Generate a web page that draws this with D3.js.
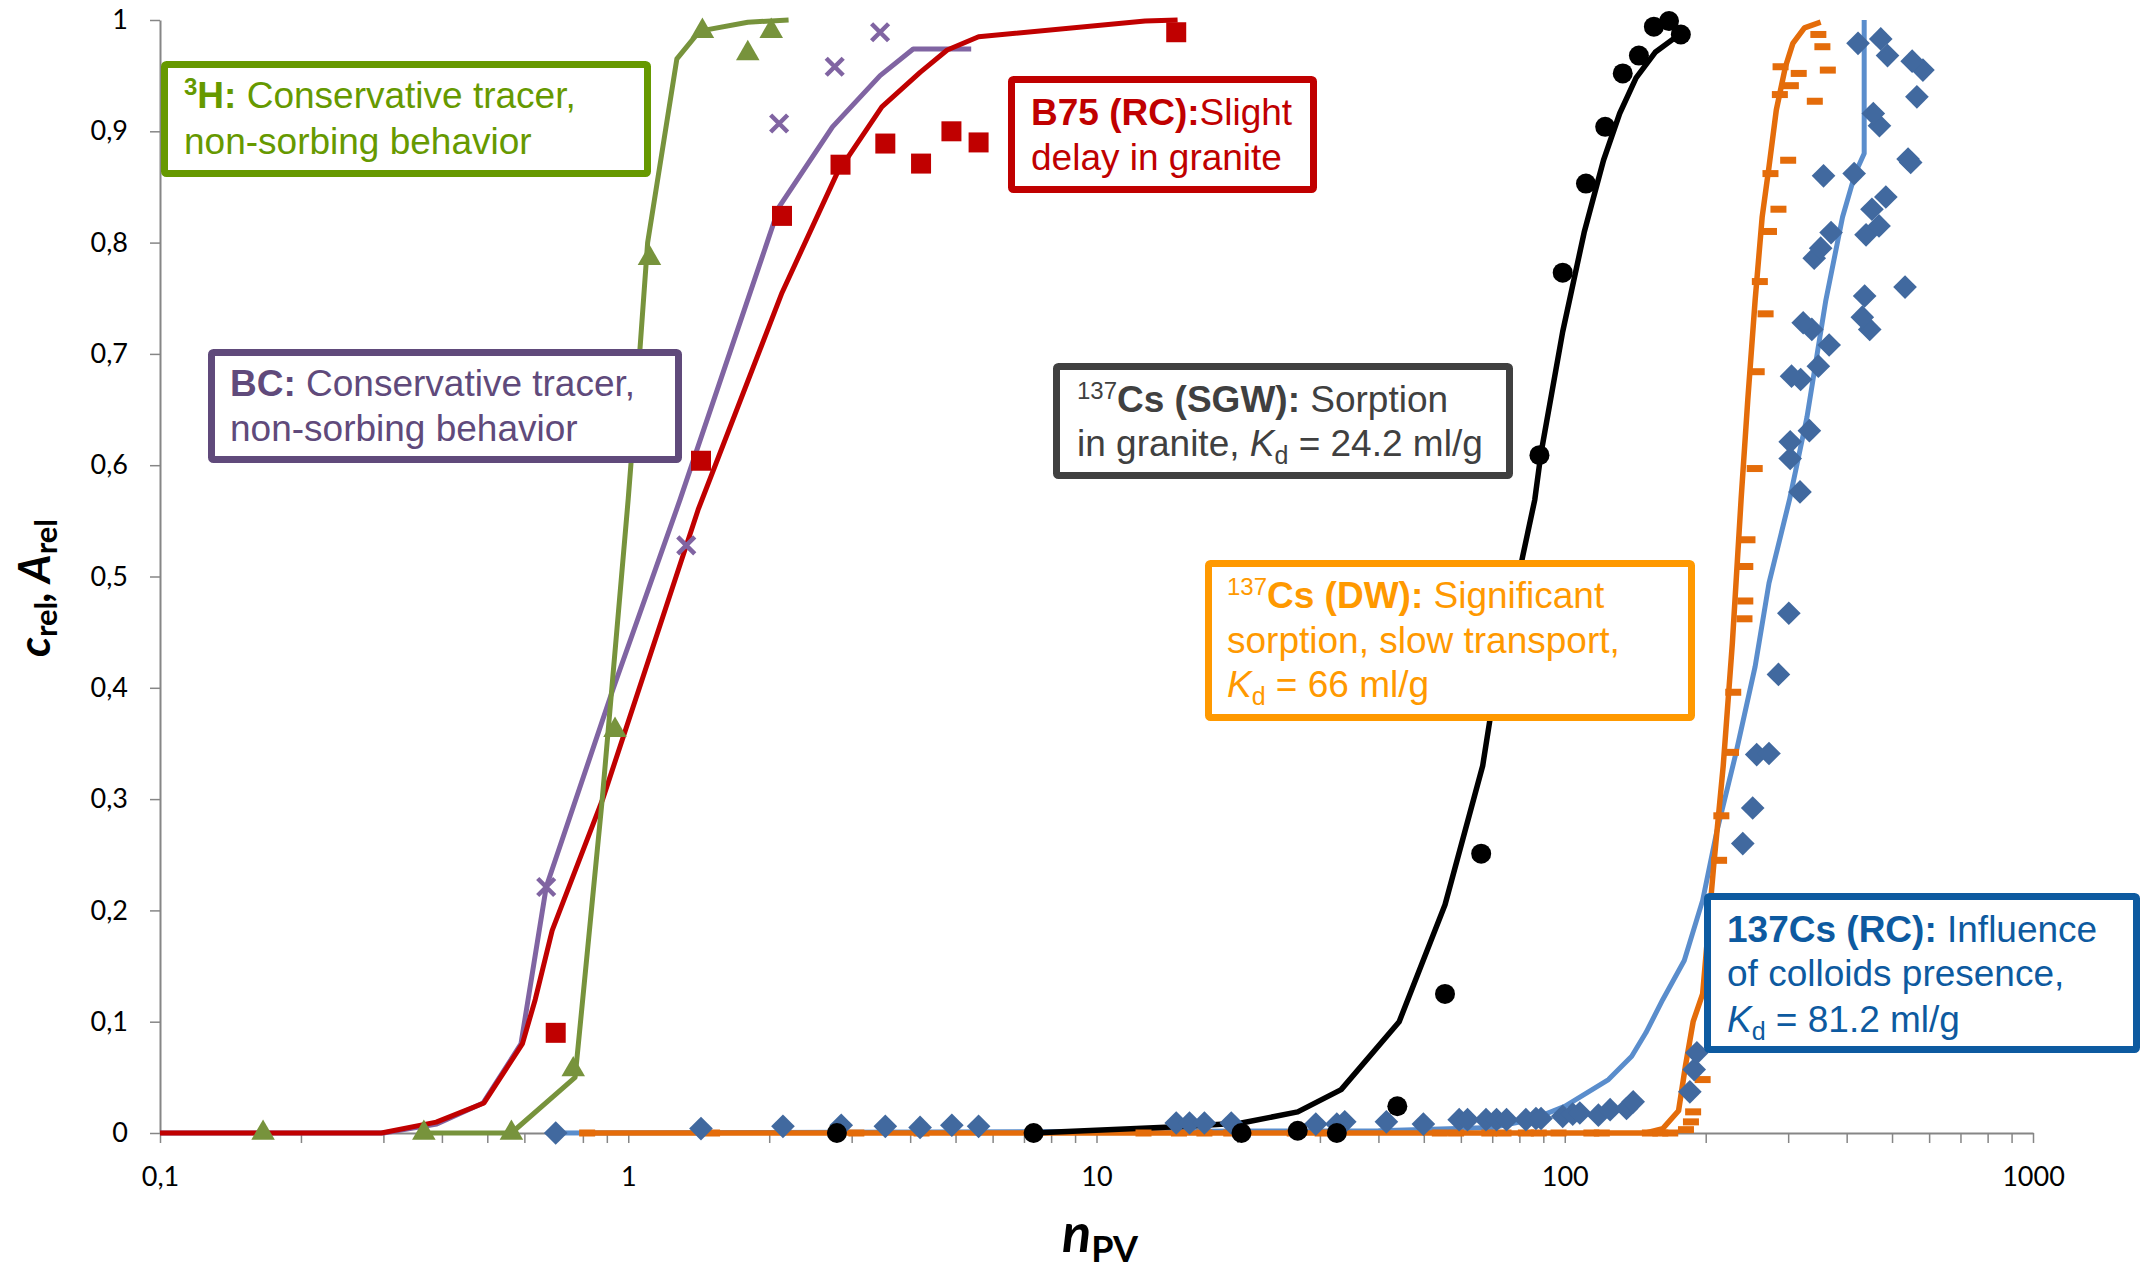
<!DOCTYPE html>
<html>
<head>
<meta charset="utf-8">
<script src="https://cdn.jsdelivr.net/npm/d3@7"></script>
<style>
  html, body { margin: 0; padding: 0; background: #fff; }
  svg { display: block; }
</style>
</head>
<body>
<svg id="chart" width="2142" height="1272"></svg>
<script>
// ---------- Breakthrough data: [n_PV, c_rel] ----------
// 3H (conservative tracer)
const h3Measured = [[0.166,0],[0.366,0],[0.563,0],[0.763,0.057],[0.937,0.362],[1.11,0.786],[1.44,0.99],[1.80,0.97],[2.02,0.99]];
const h3Model = [[0.366,0],[0.563,0],[0.77,0.05],[0.88,0.30],[1.0,0.57],[1.06,0.706],[1.10,0.80],[1.27,0.965],[1.42,0.99],[1.8,0.998],[2.2,1.0]];

// BC (conservative tracer)
const bcMeasured = [[0.668,0.221],[1.33,0.528],[2.10,0.907],[2.76,0.958],[3.45,0.989]];
const bcModel = [[0.1,0],[0.3,0],[0.39,0.008],[0.49,0.027],[0.59,0.08],[0.668,0.221],[0.93,0.40],[1.29,0.569],[2.10,0.832],[2.73,0.904],[3.45,0.95],[4.06,0.974],[5.4,0.974]];

// B75 (RC)
const b75Measured = [[0.70,0.09],[1.43,0.604],[2.13,0.824],[2.84,0.87],[3.54,0.889],[4.22,0.871],[4.9,0.90],[5.6,0.89],[14.8,0.989]];
const b75Model = [[0.1,0],[0.297,0],[0.389,0.0098],[0.492,0.027],[0.594,0.08],[0.633,0.12],[0.688,0.182],[0.882,0.30],[1.41,0.56],[2.13,0.755],[2.79,0.862],[3.48,0.922],[4.2,0.953],[4.8,0.973],[5.6,0.985],[12.7,0.999],[14.9,1.0]];

// 137Cs (SGW)
const sgwMeasured = [[2.79,0],[7.34,0],[20.4,0],[26.9,0.002],[32.6,0],[43.9,0.024],[55.5,0.125],[66.3,0.251],[88.3,0.609],[99,0.773],[111,0.853],[122,0.904],[133,0.952],[144,0.968],[155,0.994],[167,0.999],[177,0.987]];
const sgwModel = [[7.3,0],[15.7,0.006],[20.4,0.009],[26.9,0.019],[33.3,0.039],[44.3,0.10],[55.5,0.205],[66.8,0.33],[69.2,0.371],[81.3,0.518],[86.3,0.569],[89,0.611],[99,0.72],[110,0.809],[121,0.874],[131,0.916],[142,0.948],[156,0.971],[177,0.988]];

// 137Cs (DW)
const dwMeasured = [[0.817,0],[1.51,0],[3.07,0],[4.23,0],[12.6,0],[15,0],[17,0],[19.4,0],[26.5,0],[30.4,0],[54.1,0],[58.6,0],[69,0],[74,0],[82.6,0],[88,0],[97,0],[114,0],[120,0],[152,0],[160,0],[168,0],
  [181.5,0.003],[186,0.01],[188,0.019],[197,0.048],[213.6,0.245],[216,0.285],[226.5,0.342],[229,0.396],[242,0.462],[243,0.478],[243,0.509],[245.6,0.533],[254.5,0.597],[257,0.684],[268.5,0.736],[261,0.765],[273,0.81],[286,0.83],[275,0.862],[300,0.874],[342,0.927],[288,0.933],[304,0.941],[316,0.952],[289,0.958],[364.6,0.955],[355,0.976],[348,0.987]];
const dwModel = [[0.788,0],[149,0],[162,0.004],[175,0.02],[181,0.06],[188,0.10],[197,0.125],[208,0.24],[218,0.33],[228,0.44],[238,0.569],[246,0.659],[255,0.748],[264,0.823],[273,0.868],[283,0.919],[296,0.958],[307,0.979],[325,0.993],[352,0.998]];

// 137Cs (RC)
const rcMeasured = [[0.70,0],[1.43,0.004],[2.14,0.006],[2.85,0.007],[3.54,0.006],[4.2,0.005],[4.91,0.007],[5.6,0.006],[14.8,0.009],[15.8,0.009],[17.0,0.009],[19.4,0.009],[29.4,0.008],[32.6,0.008],[33.9,0.01],[41.6,0.01],[49.9,0.008],[59.5,0.012],[62,0.012],[67.9,0.012],[71.5,0.012],[75.1,0.012],[82.6,0.012],[86.8,0.013],[89,0.013],[99,0.015],[104,0.017],[107.7,0.018],[118,0.016],[125,0.021],[135.5,0.022],[140,0.028],[185,0.037],[189,0.057],[191.5,0.072],
  [240,0.26],[252,0.292],[257,0.34],[273,0.341],[286,0.412],[301,0.467],[318,0.576],[303,0.606],[303,0.621],[333,0.631],[319,0.677],[305,0.68],[348,0.689],[367,0.708],[337,0.722],[323,0.728],[448,0.722],[432,0.733],[437,0.752],[533,0.76],[341,0.786],[352,0.795],[370.5,0.809],[440,0.807],[469,0.815],[453,0.83],[485,0.841],[357,0.86],[415,0.862],[541,0.875],[548,0.872],[470,0.905],[456,0.916],[565,0.931],[582,0.955],[552,0.963],[489,0.968],[423,0.979],[473,0.983]];
const rcModel = [[0.70,0],[40,0.002],[70,0.005],[85,0.012],[100,0.024],[124,0.048],[139,0.069],[149,0.09],[162,0.12],[180,0.155],[197,0.209],[211,0.27],[232,0.341],[255,0.419],[273,0.494],[302,0.569],[329,0.643],[361,0.748],[392,0.823],[417,0.862],[436,0.88],[436,1.0]];

// ---------- Axis ticks ----------
const xMajorTicks = [0.1, 1, 10, 100, 1000];
const xMajorLabels = ["0,1", "1", "10", "100", "1000"];
const yTicks = [0, 0.1, 0.2, 0.3, 0.4, 0.5, 0.6, 0.7, 0.8, 0.9, 1];
const yLabels = ["0", "0,1", "0,2", "0,3", "0,4", "0,5", "0,6", "0,7", "0,8", "0,9", "1"];

// ---------- Annotation texts ----------
const noteH3 = [[{t:"3", b:1, sup:1}, {t:"H:", b:1}, {t:" Conservative tracer,"}], [{t:"non-sorbing behavior"}]];
const noteBC = [[{t:"BC:", b:1}, {t:" Conservative tracer,"}], [{t:"non-sorbing behavior"}]];
const noteB75 = [[{t:"B75 (RC):", b:1}, {t:"Slight"}], [{t:"delay in granite"}]];
const noteSGW = [[{t:"137", sup:1}, {t:"Cs (SGW):", b:1}, {t:" Sorption"}], [{t:"in granite, "}, {t:"K", i:1}, {t:"d", sub:1}, {t:" = 24.2 ml/g"}]];
const noteDW = [[{t:"137", sup:1}, {t:"Cs (DW):", b:1}, {t:" Significant"}], [{t:"sorption, slow transport,"}], [{t:"K", i:1}, {t:"d", sub:1}, {t:" = 66 ml/g"}]];
const noteRC = [[{t:"137Cs (RC):", b:1}, {t:" Influence"}], [{t:"of colloids presence,"}], [{t:"K", i:1}, {t:"d", sub:1}, {t:" = 81.2 ml/g"}]];

// ---------- Layout ----------
const svg = d3.select("#chart");
const plotLeft = 160, plotRight = 2033, plotTop = 20, plotBottom = 1133;
const x = d3.scaleLog().domain([0.1, 1000]).range([plotLeft, plotRight]);
const y = d3.scaleLinear().domain([0, 1]).range([plotBottom, plotTop]);

const axisColor = "#868686";
const tickFont = "Lato, 'Open Sans', sans-serif";
const boxFont = "'Liberation Sans', Arial, sans-serif";

// x axis with minor ticks at every integer multiple of a decade
const xAllTicks = [];
xMajorTicks.slice(0, -1).forEach(d => { for (let k = 1; k < 10; k++) xAllTicks.push(d * k); });
xAllTicks.push(1000);

const xAxis = d3.axisBottom(x)
  .tickValues(xAllTicks)
  .tickSize(10)
  .tickSizeOuter(0)
  .tickPadding(24)
  .tickFormat(d => {
    const i = xMajorTicks.findIndex(m => Math.abs(m - d) / m < 1e-9);
    return i >= 0 ? xMajorLabels[i] : "";
  });

const gx = svg.append("g").attr("transform", `translate(0,${plotBottom})`).call(xAxis);
gx.select(".domain").attr("stroke", axisColor).attr("stroke-width", 2);
gx.selectAll(".tick line").attr("stroke", axisColor).attr("stroke-width", 1.5);
gx.selectAll(".tick text").attr("fill", "#000").style("font-family", tickFont).style("font-size", "27px");

const yAxis = d3.axisLeft(y)
  .tickValues(yTicks)
  .tickSize(10)
  .tickSizeOuter(0)
  .tickPadding(22)
  .tickFormat((d, i) => yLabels[i]);

const gy = svg.append("g").attr("transform", `translate(${plotLeft},0)`).call(yAxis);
gy.select(".domain").attr("stroke", axisColor).attr("stroke-width", 2);
gy.selectAll(".tick line").attr("stroke", axisColor).attr("stroke-width", 1.5);
gy.selectAll(".tick text").attr("fill", "#000").style("font-family", tickFont).style("font-size", "27px");

// axis titles
const xt = svg.append("text").attr("x", 1062).attr("y", 1252)
  .style("font-family", tickFont).attr("fill", "#000");
xt.append("tspan").text("n").style("font-weight", "bold").style("font-style", "italic").style("font-size", "54px");
xt.append("tspan").text("PV").attr("dy", 10).style("font-weight", "bold").style("font-size", "36px");

const yt = svg.append("text").attr("transform", "translate(50,588) rotate(-90)")
  .attr("text-anchor", "middle").style("font-family", tickFont).attr("fill", "#000")
  .style("font-weight", "bold");
yt.append("tspan").text("c").style("font-style", "italic").style("font-size", "44px");
yt.append("tspan").text("rel").attr("dy", 7).style("font-size", "31px");
yt.append("tspan").text(", ").attr("dy", -7).style("font-style", "italic").style("font-size", "44px");
yt.append("tspan").text("A").style("font-style", "italic").style("font-size", "44px");
yt.append("tspan").text("rel").attr("dy", 7).style("font-size", "31px");

// ---------- Model curves ----------
const line = d3.line().x(d => x(d[0])).y(d => y(d[1]));
const curves = [
  {data: rcModel,  color: "#5a8dcc", w: 5},
  {data: dwModel,  color: "#e46c0a", w: 5.5},
  {data: sgwModel, color: "#000000", w: 5.5},
  {data: bcModel,  color: "#8064a2", w: 5},
  {data: b75Model, color: "#c00000", w: 5},
  {data: h3Model,  color: "#77933c", w: 5}
];
svg.append("g").selectAll("path").data(curves).join("path")
  .attr("d", d => line(d.data))
  .attr("fill", "none")
  .attr("stroke", d => d.color)
  .attr("stroke-width", d => d.w)
  .attr("stroke-linejoin", "round");

// ---------- Measured points ----------
const gm = svg.append("g");
// DW: short horizontal dashes
gm.append("g").selectAll("rect").data(dwMeasured).join("rect")
  .attr("x", d => x(d[0]) - 8).attr("y", d => y(d[1]) - 3.5)
  .attr("width", 16).attr("height", 7).attr("fill", "#e46c0a");
// RC: diamonds
const diamond = d3.symbol().type(d3.symbolSquare).size(280)();
gm.append("g").selectAll("path").data(rcMeasured).join("path")
  .attr("d", diamond)
  .attr("transform", d => `translate(${x(d[0])},${y(d[1])}) rotate(45)`)
  .attr("fill", "#41699f");
// SGW: circles
gm.append("g").selectAll("circle").data(sgwMeasured).join("circle")
  .attr("cx", d => x(d[0])).attr("cy", d => y(d[1])).attr("r", 10).attr("fill", "#000");
// BC: crosses
gm.append("g").selectAll("path").data(bcMeasured).join("path")
  .attr("d", "M-8.5,-8.5L8.5,8.5M-8.5,8.5L8.5,-8.5")
  .attr("transform", d => `translate(${x(d[0])},${y(d[1])})`)
  .attr("stroke", "#8064a2").attr("stroke-width", 4.5).attr("fill", "none");
// B75: squares
const square = d3.symbol().type(d3.symbolSquare).size(400)();
gm.append("g").selectAll("path").data(b75Measured).join("path")
  .attr("d", square)
  .attr("transform", d => `translate(${x(d[0])},${y(d[1])})`)
  .attr("fill", "#c00000");
// 3H: triangles
const tri = d3.symbol().type(d3.symbolTriangle).size(240)();
gm.append("g").selectAll("path").data(h3Measured).join("path")
  .attr("d", tri)
  .attr("transform", d => `translate(${x(d[0])},${y(d[1])})`)
  .attr("fill", "#77933c");

// ---------- Annotation boxes ----------
function noteBox(x0, y0, x1, y1, color, lines, textX, baselines) {
  const g = svg.append("g");
  g.append("rect")
    .attr("x", x0 + 3.5).attr("y", y0 + 3.5)
    .attr("width", x1 - x0 - 7).attr("height", y1 - y0 - 7)
    .attr("rx", 2)
    .attr("fill", "#fff").attr("stroke", color).attr("stroke-width", 7);
  lines.forEach((spans, li) => {
    const t = g.append("text").attr("x", textX).attr("y", baselines[li])
      .attr("fill", color).style("font-family", boxFont).style("font-size", "37px");
    let shift = 0;
    spans.forEach(s => {
      const ts = t.append("tspan").text(s.t);
      let target = 0;
      if (s.sup) { target = -13; ts.style("font-size", "24px"); }
      if (s.sub) { target = 8; ts.style("font-size", "25px"); }
      if (target !== shift) { ts.attr("dy", target - shift); shift = target; }
      if (s.b) ts.style("font-weight", "bold");
      if (s.i) ts.style("font-style", "italic");
    });
  });
}

noteBox(161, 61, 651, 177, "#669900", noteH3, 184, [108, 154]);
noteBox(208, 349, 682, 463, "#604a7b", noteBC, 230, [396, 441]);
noteBox(1008, 76, 1317, 193, "#c00000", noteB75, 1031, [125, 170]);
noteBox(1053, 363, 1513, 479, "#404040", noteSGW, 1077, [412, 456]);
noteBox(1205, 560, 1695, 721, "#ff9900", noteDW, 1227, [608, 653, 697]);
noteBox(1704, 893, 2140, 1053, "#0d5aa0", noteRC, 1727, [942, 986, 1032]);
</script>
</body>
</html>
